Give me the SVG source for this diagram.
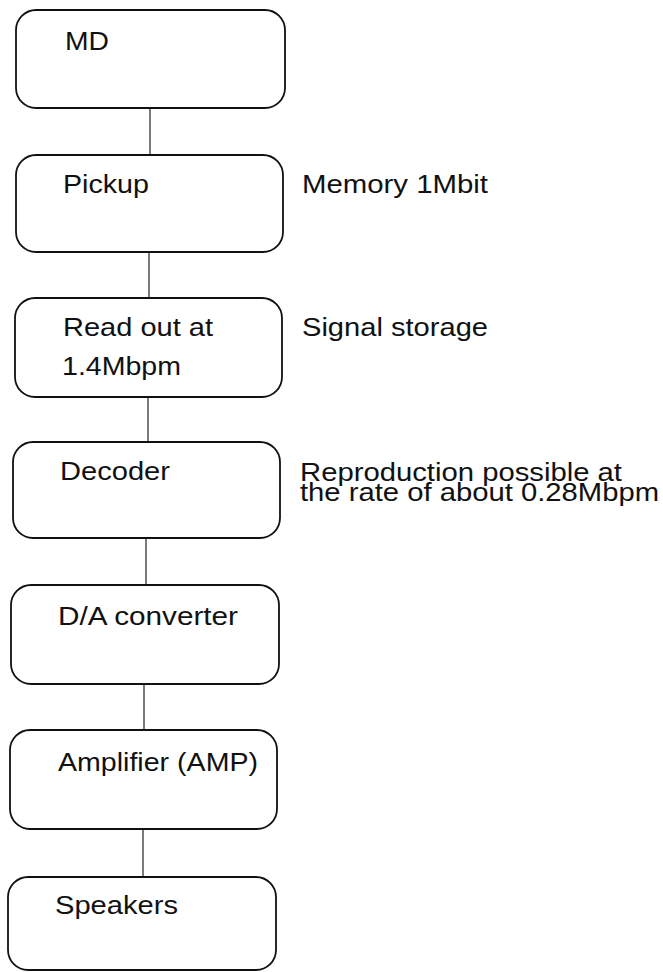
<svg xmlns="http://www.w3.org/2000/svg" width="663" height="972" viewBox="0 0 663 972">
<style>
.box{fill:#fff;stroke:#111;stroke-width:1.8}
.lbl{font-family:"Liberation Sans",Arial,sans-serif;font-size:25px;fill:#111}
.conn line{stroke:#222;stroke-width:1.2}
</style>
<rect width="663" height="972" fill="#fff"/>
<g id="connectors" class="conn">
<line x1="150" y1="108" x2="150" y2="155"/>
<line x1="149" y1="252" x2="149" y2="298"/>
<line x1="148" y1="397" x2="148" y2="442"/>
<line x1="146" y1="538" x2="146" y2="585"/>
<line x1="144" y1="684" x2="144" y2="730"/>
<line x1="143" y1="829" x2="143" y2="877"/>
</g>
<g id="n-md"><rect class="box" x="16" y="10" width="269" height="98" rx="20"/><text class="lbl" x="65" y="50" textLength="44" lengthAdjust="spacingAndGlyphs">MD</text></g>
<g id="n-pickup"><rect class="box" x="16" y="155" width="267" height="97" rx="20"/><text class="lbl" x="63" y="193" textLength="86" lengthAdjust="spacingAndGlyphs">Pickup</text></g>
<g id="n-readout"><rect class="box" x="15" y="298" width="267" height="99" rx="20"/><text class="lbl" x="63" y="336" textLength="150" lengthAdjust="spacingAndGlyphs">Read out at</text><text class="lbl" x="62" y="375" textLength="119" lengthAdjust="spacingAndGlyphs">1.4Mbpm</text></g>
<g id="n-decoder"><rect class="box" x="13" y="442" width="267" height="96" rx="20"/><text class="lbl" x="60" y="480" textLength="110" lengthAdjust="spacingAndGlyphs">Decoder</text></g>
<g id="n-da"><rect class="box" x="11" y="585" width="268" height="99" rx="20"/><text class="lbl" x="58" y="625" textLength="180" lengthAdjust="spacingAndGlyphs">D/A converter</text></g>
<g id="n-amp"><rect class="box" x="10" y="730" width="267" height="99" rx="20"/><text class="lbl" x="58" y="771" textLength="200" lengthAdjust="spacingAndGlyphs">Amplifier (AMP)</text></g>
<g id="n-speakers"><rect class="box" x="8" y="877" width="268" height="93" rx="20"/><text class="lbl" x="55" y="914" textLength="123" lengthAdjust="spacingAndGlyphs">Speakers</text></g>
<g id="notes">
<text class="lbl" x="302" y="193" textLength="186" lengthAdjust="spacingAndGlyphs">Memory 1Mbit</text>
<text class="lbl" x="302" y="336" textLength="186" lengthAdjust="spacingAndGlyphs">Signal storage</text>
<text class="lbl" x="300" y="481" textLength="322" lengthAdjust="spacingAndGlyphs">Reproduction possible at</text>
<text class="lbl" x="300" y="501" textLength="359" lengthAdjust="spacingAndGlyphs">the rate of about 0.28Mbpm</text>
</g>
</svg>
